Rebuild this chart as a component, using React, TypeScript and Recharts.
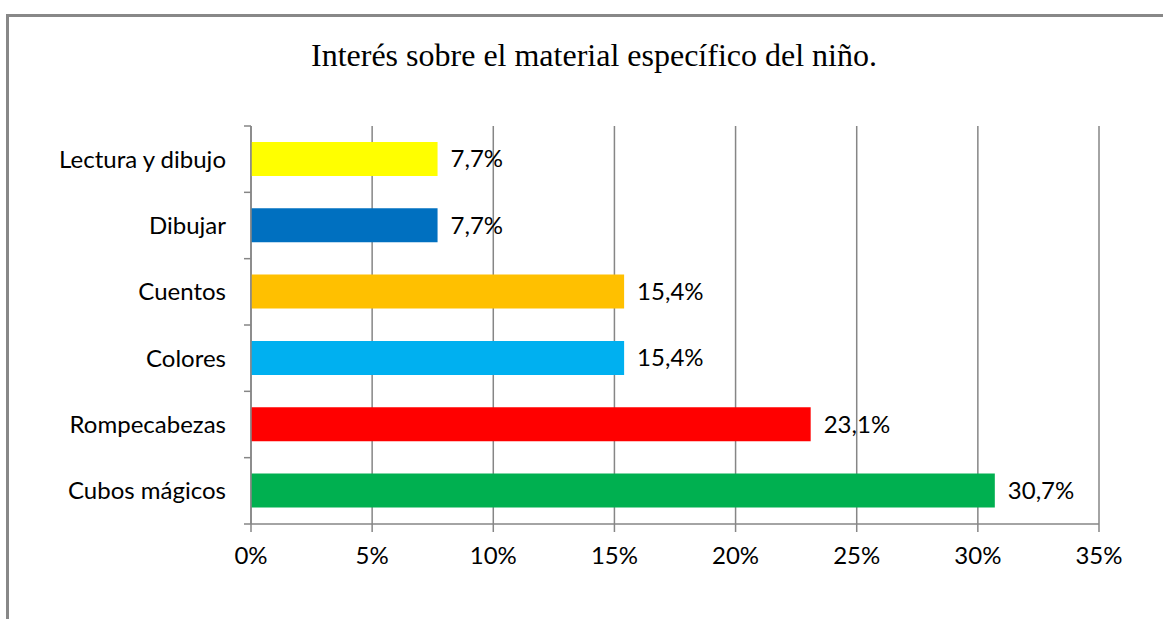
import { BarChart, Bar, XAxis, YAxis, CartesianGrid, Cell, LabelList } from 'recharts'

// Categories top to bottom, as shown in the chart
const categories = ['Lectura y dibujo', 'Dibujar', 'Cuentos', 'Colores', 'Rompecabezas', 'Cubos mágicos']
const percents = [7.7, 7.7, 15.4, 15.4, 23.1, 30.7]
const barColors = ['#FFFF00', '#0070C0', '#FFC000', '#00B0F0', '#FF0000', '#00B050']
const xTicks = [0, 5, 10, 15, 20, 25, 30, 35]

const data = categories.map((name, i) => ({ name, value: percents[i] }))

const W = 1163
const H = 619
const PLOT_TOP = 126
const PLOT_BOTTOM = 524
const X_AXIS_H = 30
const BAND = (PLOT_BOTTOM - PLOT_TOP) / categories.length
const FONT = 'Lato, "Open Sans", sans-serif'
const FONT_SIZE = 24
const GRID = '#868686'

// Category tick: label at band centre, tick mark at band boundaries (Excel style)
function CategoryTick(props: any) {
  const { x, y, payload, index } = props
  const axisX = x + 7 + 18
  return (
    <g>
      <line x1={axisX - 7} x2={axisX} y1={y - BAND / 2} y2={y - BAND / 2} stroke={GRID} strokeWidth={1.5} />
      {index === categories.length - 1 && (
        <line x1={axisX - 7} x2={axisX} y1={y + BAND / 2} y2={y + BAND / 2} stroke={GRID} strokeWidth={1.5} />
      )}
      <text x={x} y={y} dy="0.36em" textAnchor="end" fill="#000" fontSize={FONT_SIZE} fontFamily={FONT}>
        {payload.value}
      </text>
    </g>
  )
}

export default function App() {
  return (
    <div style={{ position: 'absolute', left: 0, top: 0, width: W, height: H, background: '#fff', overflow: 'hidden' }}>
      {/* outer frame: only top and left edges are visible */}
      <div
        style={{
          position: 'absolute',
          left: 6,
          top: 14,
          width: W,
          height: H,
          borderTop: '3px solid #888',
          borderLeft: '3px solid #888',
          boxSizing: 'border-box',
        }}
      />
      <div
        style={{
          position: 'absolute',
          left: 0,
          width: W,
          top: 35,
          lineHeight: '40px',
          textAlign: 'center',
          fontFamily: '"Liberation Serif", "Times New Roman", serif',
          fontSize: 32,
          color: '#000',
          paddingLeft: 25,
          boxSizing: 'border-box',
        }}
      >
        Interés sobre el material específico del niño.
      </div>
      <BarChart
        width={W}
        height={H}
        data={data}
        layout="vertical"
        margin={{ top: PLOT_TOP, bottom: H - PLOT_BOTTOM - X_AXIS_H, left: 0, right: 64 }}
        barCategoryGap="24%"
        style={{ position: 'absolute', left: 0, top: 0 }}
      >
        <CartesianGrid horizontal={false} stroke={GRID} strokeWidth={1.5} />
        <XAxis
          type="number"
          domain={[0, 35]}
          ticks={xTicks}
          height={X_AXIS_H}
          tickFormatter={(v) => `${v}%`}
          axisLine={{ stroke: GRID, strokeWidth: 1.5 }}
          tickLine={{ stroke: GRID, strokeWidth: 1.5 }}
          tickSize={8}
          tickMargin={15}
          tick={{ fill: '#000', fontSize: FONT_SIZE, fontFamily: FONT }}
          interval={0}
        />
        <YAxis
          type="category"
          dataKey="name"
          width={251}
          axisLine={{ stroke: GRID, strokeWidth: 1.5 }}
          tickLine={false}
          tickSize={7}
          tickMargin={18}
          tick={<CategoryTick />}
          interval={0}
        />
        <Bar dataKey="value" isAnimationActive={false}>
          {data.map((d, i) => (
            <Cell key={d.name} fill={barColors[i]} />
          ))}
          <LabelList
            dataKey="value"
            position="right"
            offset={13}
            formatter={(v: any) => `${Number(v).toFixed(1).replace('.', ',')}%`}
            fill="#000"
            fontSize={FONT_SIZE}
            fontFamily={FONT}
          />
        </Bar>
      </BarChart>
    </div>
  )
}
